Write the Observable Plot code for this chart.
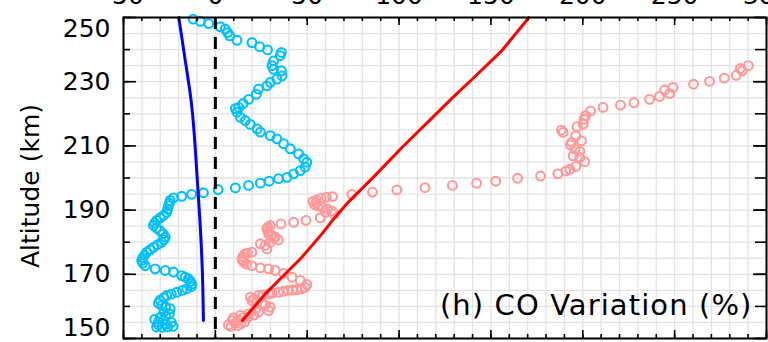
<!DOCTYPE html>
<html><head><meta charset="utf-8">
<script src="https://cdn.jsdelivr.net/npm/d3@7"></script>
<script src="https://cdn.jsdelivr.net/npm/@observablehq/plot@0.6"></script>
<style>body{margin:0;background:#fff}#chart svg{display:block}</style>
</head><body><div id="chart"></div>
<script>
// tick labels
const xTickLabels = [-50, 0, 50, 100, 150, 200, 250, 300];
const yTickLabels = [150, 170, 190, 210, 230, 250];
const yTitle = "Altitude (km)";
const panelLabel = "(h) CO Variation (%)";

// cyan circles (variation %, altitude km)
const cyanVar = [-32,-29,-26,-23,-31,-27,-24,-31,-33,-30,-27,-25,-28,-24.6,-27,-29.2,-31,-30.1,-28,-26.5,-24,-21,-18,-15.6,-13,-12.9,-13.5,-14.7,-16.5,-18.3,-22.8,-27.3,-32.8,-38.2,-39.5,-40.1,-39.5,-38.5,-37.3,-35.5,-33.7,-31.5,-29.2,-28,-27.3,-28.5,-30.1,-32,-33.7,-33,-31.9,-30,-28,-26.5,-26,-25.5,-25,-24.6,-22.8,-18.3,-12.9,-6.5,1.5,10.9,18.1,24.5,29.3,34.4,39.0,42.6,46.2,48.9,49.8,48.0,45.3,40.8,37.1,33.5,29.9,24.5,22.7,19.0,16.3,13.6,11.8,10.9,12.7,15.1,18.1,22.3,23.5,28.1,29.9,33.5,36.3,35.9,31.7,30.8,31.7,35.3,35.9,28.4,24.1,19.9,11.8,7.8,6.7,5.4,2.7,-3.6,-8.2,-12.1];
const cyanAlt = [153.6,153.5,153.6,153.8,154.3,154.5,155,155.1,156,156.6,157,157.7,158.3,159.3,159.8,160.3,161,161.9,162.7,163.4,163.8,164.4,165,165.5,166.2,167,167.8,168.6,169.1,169.6,170.7,171.2,171.7,172.7,173.5,174.3,175.2,176,176.9,177.6,178.4,179.2,180,180.8,181.6,182.6,183.6,184.4,185.2,186,186.8,187.6,188.4,189.3,190.3,191.4,192.2,193,193.8,194.3,194.9,195.4,196.4,196.9,197.7,198.4,199.0,199.8,200.2,201.3,202.3,203.4,204.9,206.0,207.5,209.1,210.7,212.2,213.2,214.3,215.3,216.7,217.9,218.9,220.5,221.6,222.0,223.2,224.5,226.1,227.7,228.7,229.8,230.8,231.8,233.4,233.9,235.0,236.5,238.1,239.1,239.9,240.9,242.2,242.9,244.3,245.3,246.4,247.1,248.1,248.8,249.5];

// pink circles
const pinkVar = [7,8.5,12,10.9,14,9.1,16,12.5,9.9,15,18,13.6,21,18.1,23.5,29.0,22,29.9,27,25.4,22.5,19.9,21,19.0,23.5,26,29.0,31,34.4,37,39.5,42,44.4,47,48.9,49.8,46.2,41.7,37.1,32.6,29.0,24.5,19.9,17,15.4,14.8,14.5,15,16.3,17.5,19.9,28.1,27,24.5,29.9,34.4,31.5,32.6,30.5,29.0,28.5,28.1,28.5,29.9,35.7,42.6,49.3,57.1,64.7,60,63.4,61,58.3,56,54.0,55,53.1,55,57.6,60.5,63.8,74.3,85.5,98.8,114.1,129.0,142.2,152.6,164.5,177.0,186.4,190.8,192.9,196.2,201.1,198.4,194.7,198.4,195.7,193.3,193.9,199.3,196.2,189.3,188.4,196.9,200.2,200.7,201.6,204.3,211.0,220.5,227.9,236.4,241.8,247.3,244.6,249.1,260.3,269.0,277.0,283.5,286.8,285.7,290.1];
const pinkAlt = [154.2,153.8,154,154.8,154.6,155.6,155.2,155.8,156.4,156.5,156.8,157.2,157.3,157.7,158.2,158.7,159.2,159.8,160.4,161.0,161.3,161.8,162.3,162.9,163.4,163.6,163.9,164.1,164.4,164.7,165.0,165.1,165.2,165.5,166.0,166.8,168.1,169.1,170.3,171.2,171.7,172.0,172.7,173.2,173.8,174.3,174.8,175.5,176.4,176.6,176.9,177.9,179,179.5,180.0,180.7,181.2,181.6,182.1,182.6,183.4,184.2,184.7,185.2,185.7,186.2,186.8,187.6,188.8,189.3,189.7,190.3,190.9,191.3,191.7,192.2,192.7,193.2,193.7,194,194.2,194.9,195.6,196.3,197.0,197.7,198.4,199.0,199.9,200.6,201.3,202.2,202.7,203.6,205.1,206.4,206.9,208.3,209.0,210.3,211.1,211.6,213.1,214.2,214.9,216.0,216.8,218.3,219.4,220.9,222.0,222.7,223.5,224.5,225.4,226.3,227.4,228.2,229.2,230.1,231.1,232.0,233.4,234.1,235.0];

// blue solid line
const blueVar = [-6.5,-7.1,-8.4,-9.8,-13.2,-16.8,-19.9];
const blueAlt = [155.6,171.2,186.8,199.2,224.1,238.2,250];

// red solid line
const redVar = [14.7,27.2,36.2,47.1,58.0,65.2,72.4,85.9,101.6,129.3,140.2,156.0,170.7];
const redAlt = [155.6,163.9,169.1,175.3,182.6,187.8,192.5,200.2,209.5,225.1,231.0,239.7,250];

const W = 768, H = 342, mL = 123, mR = 2, mT = 17, mB = 4;
const fw = W - mL - mR, fh = H - mT - mB;
const xMinor = d3.range(-50, 301, 10);
const yMinor = d3.range(150, 251, 10);
const gridStyle = {stroke: "#e3e3e3", strokeOpacity: 1, strokeWidth: 1.3};
const tk = {stroke: "black", strokeWidth: 1.6};
const font = 25;

const chart = Plot.plot({
  width: W, height: H,
  marginLeft: mL, marginRight: mR, marginTop: mT, marginBottom: mB,
  style: {fontFamily: "DejaVu Sans", background: "white", color: "black"},
  x: {domain: [-50, 300], axis: null},
  y: {domain: [150, 250], axis: null},
  marks: [
    Plot.gridX(xMinor, gridStyle),
    Plot.gridY(d3.range(150, 251, 5), gridStyle),
    Plot.dot(cyanAlt, {x: cyanVar, y: cyanAlt, r: 4.4, stroke: "#00bfff", strokeWidth: 2.1, fill: "none"}),
    Plot.dot(pinkAlt, {x: pinkVar, y: pinkAlt, r: 4.4, stroke: "#ff9999", strokeWidth: 2.1, fill: "none"}),
    Plot.line(blueAlt, {x: blueVar, y: blueAlt, stroke: "#0000ff", strokeWidth: 3, curve: "monotone-y"}),
    Plot.line(redAlt, {x: redVar, y: redAlt, stroke: "#ff0000", strokeWidth: 3}),
    Plot.ruleX([0], {stroke: "black", strokeWidth: 3, strokeDasharray: "12,8"}),
    Plot.frame({stroke: "black", strokeWidth: 2}),
    // top ticks
    Plot.tickX(xMinor, {x: d => d, insetBottom: fh - 4, ...tk}),
    Plot.tickX(xTickLabels, {x: d => d, insetBottom: fh - 8, ...tk}),
    // bottom ticks
    Plot.tickX(xMinor, {x: d => d, insetTop: fh - 4, ...tk}),
    Plot.tickX(xTickLabels, {x: d => d, insetTop: fh - 8, ...tk}),
    // left ticks
    Plot.tickY(yMinor, {y: d => d, insetRight: fw - 7, ...tk}),
    Plot.tickY(yTickLabels, {y: d => d, insetRight: fw - 13, ...tk}),
    // right ticks
    Plot.tickY(yMinor, {y: d => d, insetLeft: fw - 11, ...tk}),
    Plot.tickY(yTickLabels, {y: d => d, insetLeft: fw - 13, ...tk}),
    // y tick labels
    Plot.text(yTickLabels.filter(d => d > 150 && d < 250), {y: d => d, text: d => String(d), frameAnchor: "left", textAnchor: "end", dx: -13, fontSize: font}),
    Plot.text(yTickLabels.filter(d => d === 250), {y: d => d, text: d => String(d), frameAnchor: "left", textAnchor: "end", dx: -13, dy: 11, fontSize: font}),
    Plot.text(yTickLabels.filter(d => d === 150), {y: d => d, text: d => String(d), frameAnchor: "left", textAnchor: "end", dx: -13, dy: -11, fontSize: font}),
    // x tick labels (top, mostly cut off as in the reference crop)
    Plot.text(xTickLabels, {x: d => d, text: d => String(d), frameAnchor: "top", lineAnchor: "bottom", dy: -14, fontSize: font}),
    // titles
    Plot.text([yTitle], {text: d => d, frameAnchor: "left", textAnchor: "middle", rotate: -90, dx: -93, dy: 8, fontSize: 25}),
    Plot.text([panelLabel], {text: d => d, frameAnchor: "bottom-right", textAnchor: "end", lineAnchor: "bottom", dx: -14, dy: -24, fontSize: 29})
  ]
});
d3.select(chart).selectAll("text").filter(function() { return this.textContent === panelLabel; }).attr("letter-spacing", "1.1px");
document.getElementById("chart").append(chart);
</script>
</body></html>
